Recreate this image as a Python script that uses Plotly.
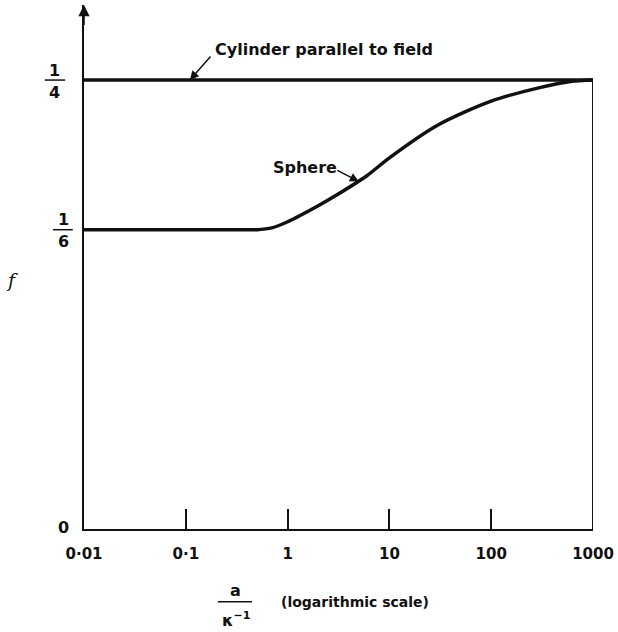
import plotly.graph_objects as go

# Reduced size parameter a / kappa^-1 (log scale)
ratio = [0.01, 0.1, 0.3, 0.5, 0.7, 1, 2, 3, 6, 10, 30, 100, 300, 600, 1000]
# Sphere: f rises from 1/6 to 1/4
f_sphere = [1/6, 1/6, 1/6, 1/6, 0.1677, 0.1711, 0.1800, 0.1858, 0.1967,
            0.2067, 0.2250, 0.2383, 0.2458, 0.2492, 0.25]
# Cylinder parallel to field: f = 1/4 throughout
cyl_x = [0.01, 1000]
cyl_f = [0.25, 0.25]

x_ticks = [0.01, 0.1, 1, 10, 100, 1000]
x_ticktext = ["0·01", "0·1", "1", "10", "100", "1000"]
y_top = 0.2918

FONT = "DejaVu Sans"
INK = "#111111"


def txt(size, bold=True, family=FONT):
    return dict(size=size, family=family, color=INK, weight="bold" if bold else "normal")


fig = go.Figure()
fig.add_trace(go.Scatter(x=cyl_x, y=cyl_f, mode="lines",
                         line=dict(color=INK, width=3.5), cliponaxis=False))
fig.add_trace(go.Scatter(x=ratio, y=f_sphere, mode="lines",
                         line=dict(color=INK, width=3.5, shape="spline", smoothing=0.8),
                         cliponaxis=False))
# right-hand edge of the frame at the largest ratio
fig.add_trace(go.Scatter(x=[cyl_x[-1], cyl_x[-1]], y=[0, cyl_f[-1]], mode="lines",
                         line=dict(color=INK, width=2), cliponaxis=False))

fig.update_layout(
    width=618, height=632,
    margin=dict(l=84, r=25, t=5, b=103),
    paper_bgcolor="white", plot_bgcolor="white",
    showlegend=False,
    font=dict(family=FONT, color=INK, size=15),
    xaxis=dict(type="log", range=[-2, 3], tickvals=x_ticks, ticktext=x_ticktext,
               ticks="inside", ticklen=20, tickwidth=1.5, tickcolor=INK,
               ticklabelstandoff=10,
               showline=True, linecolor=INK, linewidth=2, showgrid=False,
               zeroline=False, tickfont=txt(15)),
    yaxis=dict(range=[0, y_top], showticklabels=False, ticks="",
               showline=True, linecolor=INK, linewidth=2, showgrid=False,
               zeroline=False),
)

ann = []
# arrowhead on the f axis
ann.append(dict(x=-2, y=y_top, ax=-2, ay=y_top - 0.012, xref="x", yref="y",
                axref="x", ayref="y", showarrow=True, arrowhead=2, arrowsize=1.4,
                arrowwidth=1.6, arrowcolor=INK, text=""))
# stacked-fraction tick labels on the f axis
for val, num, den, xc in [(0.25, "1", "4", -0.057), (1/6, "1", "6", -0.041)]:
    ann.append(dict(x=xc, y=val, xref="paper", yref="y", text=num, showarrow=False,
                    xanchor="center", yanchor="middle", yshift=10, font=txt(16)))
    ann.append(dict(x=xc, y=val, xref="paper", yref="y", text=den, showarrow=False,
                    xanchor="center", yanchor="middle", yshift=-12, font=txt(16)))
ann.append(dict(x=-0.041, y=0, xref="paper", yref="y", text="0", showarrow=False,
                xanchor="center", yanchor="middle", yshift=2, font=txt(16)))
ann.append(dict(x=-0.141, y=0.1387, xref="paper", yref="y", text="<i>f</i>",
                xanchor="center", yanchor="middle",
                showarrow=False, font=txt(19, bold=False, family="DejaVu Serif")))
# x-axis title: a / kappa^-1 (logarithmic scale)
ann.append(dict(x=0.297, y=-0.118, xref="paper", yref="paper", text="a",
                xanchor="center", yanchor="middle", showarrow=False, font=txt(16)))
ann.append(dict(x=0.299, y=-0.172, xref="paper", yref="paper",
                text="κ<sup>−1</sup>", xanchor="center", yanchor="middle",
                showarrow=False, font=txt(16)))
ann.append(dict(x=0.532, y=-0.139, xref="paper", yref="paper",
                text="(logarithmic scale)", xanchor="center", yanchor="middle",
                showarrow=False, font=txt(14)))
# curve labels (x positions on the log axis are given as log10 values)
ann.append(dict(x=-0.96, y=0.25, xref="x", yref="y", ax=22, ay=-25,
                text="", showarrow=True, arrowhead=2, arrowsize=1.2, arrowwidth=1.5,
                arrowcolor=INK))
ann.append(dict(x=0.472, y=0.916, xref="paper", yref="paper",
                text="Cylinder parallel to field", xanchor="center", yanchor="middle",
                showarrow=False, font=txt(16)))
ann.append(dict(x=0.7, y=0.1935, xref="x", yref="y", ax=-23, ay=-12,
                text="", showarrow=True, arrowhead=2, arrowsize=1.2, arrowwidth=1.5,
                arrowcolor=INK))
ann.append(dict(x=0.435, y=0.69, xref="paper", yref="paper", text="Sphere",
                xanchor="center", yanchor="middle",
                showarrow=False, font=txt(16)))
fig.update_layout(annotations=ann)

# fraction bars for the tick labels and the axis title
shapes = []
for val, x0, x1 in [(0.25, -0.077, -0.037), (1/6, -0.061, -0.022)]:
    shapes.append(dict(type="line", xref="paper", yref="y", x0=x0, x1=x1,
                       y0=val, y1=val, line=dict(color=INK, width=1.5)))
shapes.append(dict(type="line", xref="paper", yref="paper", x0=0.263, x1=0.330,
                   y0=-0.139, y1=-0.139, line=dict(color=INK, width=1.5)))
fig.update_layout(shapes=shapes)

fig.write_html("out.html")
